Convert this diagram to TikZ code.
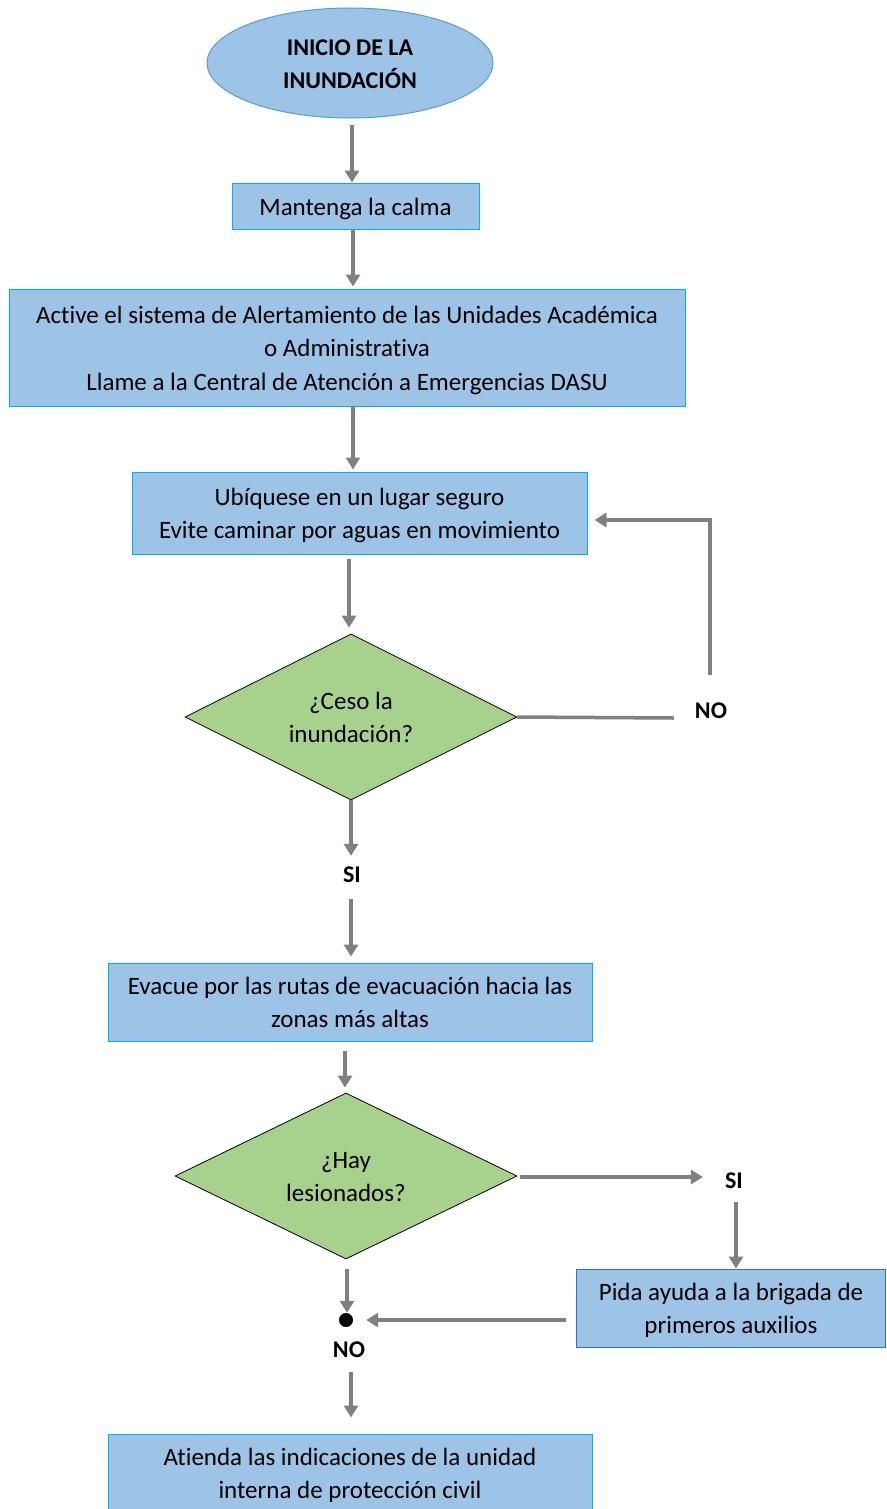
\documentclass[tikz,border=0pt]{standalone}
\usepackage{fontspec}
\setmainfont[Ligatures={NoCommon}]{Carlito}
\usetikzlibrary{shapes.geometric,arrows.meta}
\definecolor{boxfill}{HTML}{9DC3E6}
\definecolor{boxline}{HTML}{00B0F0}
\definecolor{boxdark}{HTML}{2E75B6}
\definecolor{ellline}{HTML}{5B9BD5}
\definecolor{decfill}{HTML}{A9D18E}
\definecolor{arrgray}{HTML}{808080}
\tikzset{
  stepbox/.style={draw=boxline, line width=1pt, fill=boxfill, rectangle, align=center, inner sep=0pt,
    text depth=6pt, font=\fontsize{25}{33.5}\selectfont},
  decbox/.style={draw=black, line width=0.8pt, fill=decfill, diamond, aspect=2, align=center, inner sep=0pt,
    text depth=6pt, font=\fontsize{25}{33.5}\selectfont},
  oneline/.style={text height=24pt},
  twolines/.style={text height=57.5pt},
  threelines/.style={text height=91pt},
  lbl/.style={font=\fontsize{24}{26}\selectfont\bfseries, inner sep=0pt},
  arr/.style={draw=arrgray, line width=3.5pt, -{Triangle[width=14pt,length=12pt]}},
  ln/.style={draw=arrgray, line width=3.5pt},
}
\begin{document}
\begin{tikzpicture}[x=1pt,y=-1pt]
\useasboundingbox (0,0) rectangle (886,1509);
\begin{scope}
\clip (0,0) rectangle (886,1509);
% nodes
\node[ellipse, draw=ellline, line width=1pt, fill=boxfill, minimum width=286pt, minimum height=110pt, inner sep=0pt,
  align=center, text height=57.5pt, text depth=6pt, font=\fontsize{24}{33.5}\selectfont\bfseries] (e) at (350,63) {INICIO DE LA\\INUNDACIÓN};
\node[stepbox, oneline, minimum width=247pt, minimum height=46pt] (b1) at (355.5,206) {Mantenga la calma};
\node[stepbox, threelines, minimum width=676pt, minimum height=117pt] (b2) at (347,347.5)
  {Active el sistema de Alertamiento de las Unidades Académica\\o Administrativa\\Llame a la Central de Atención a Emergencias DASU};
\node[stepbox, twolines, minimum width=455pt, minimum height=82pt] (b3) at (359.5,513)
  {Ubíquese en un lugar seguro\\Evite caminar por aguas en movimiento};
\node[decbox, twolines, minimum width=332pt, minimum height=166pt] (d1) at (351,717) {¿Ceso la\\inundación?};
\node[lbl] (si1) at (352,875) {SI};
\node[lbl] (no1) at (711,711) {NO};
\node[stepbox, twolines, minimum width=484pt, minimum height=78pt] (b4) at (350,1002)
  {Evacue por las rutas de evacuación hacia las\\zonas más altas};
\node[decbox, twolines, minimum width=342pt, minimum height=166pt] (d2) at (346,1176) {¿Hay\\lesionados?};
\node[lbl] (si2) at (734,1181) {SI};
\node[stepbox, twolines, draw=boxdark, minimum width=309pt, minimum height=78pt] (b5) at (731,1308)
  {Pida ayuda a la brigada de\\primeros auxilios};
\node[circle, fill=black, minimum size=14pt, inner sep=0pt] (dot) at (346,1320) {};
\node[lbl] (no2) at (349,1350) {NO};
\node[stepbox, twolines, minimum width=484pt, minimum height=78pt] (b6) at (350,1473)
  {Atienda las indicaciones de la unidad\\interna de protección civil};
\end{scope}
% connectors
\draw[arr] ([xshift=2pt,yshift=-7pt]e.south) -- ([xshift=-3.5pt]b1.north);
\draw[arr] ([xshift=-2.5pt]b1.south) -- ([xshift=6pt,yshift=2pt]b2.north);
\draw[arr] ([xshift=6pt]b2.south) -- ([xshift=-6.5pt,yshift=2pt]b3.north);
\draw[arr] ([xshift=-10.5pt,yshift=-4pt]b3.south) -- ([xshift=-2pt,yshift=6pt]d1.north);
\coordinate (s1a) at ([yshift=11pt]si1.north -| d1.south);
\draw[arr] (d1.south) -- (s1a);
\coordinate (s1b) at ([yshift=-16pt]si1.south -| d1.south);
\draw[arr] (s1b) -- ([xshift=1pt,yshift=6pt]b4.north);
\coordinate (n1a) at ([xshift=-21pt,yshift=-7pt]no1.west);
\draw[ln] (d1.east) -- (n1a);
\coordinate (n1b) at ([xshift=-1pt,yshift=28pt]no1.north);
\coordinate (n1c) at ([yshift=-7pt]n1b |- b3.east);
\draw[arr] (n1b) -- (n1c) -- ([xshift=7pt]b3.east |- n1c);
\draw[arr] ([xshift=-5pt,yshift=-9pt]b4.south) -- ([xshift=-1pt,yshift=5pt]d2.north);
\coordinate (s2a) at ([xshift=3pt,yshift=-1pt]d2.east);
\draw[arr] (s2a) -- ([xshift=-22pt]si2.west |- s2a);
\draw[arr] ([xshift=2pt,yshift=-13pt]si2.south) -- ([xshift=5pt]b5.north);
\draw[arr] ([xshift=-10pt,yshift=-12pt]b5.west) -- ([xshift=13pt]dot.east);
\draw[arr] ([xshift=1pt,yshift=-10pt]d2.south) -- ([xshift=1pt]dot.north);
\draw[arr] ([xshift=2pt,yshift=-14pt]no2.south) -- ([xshift=1pt,yshift=16pt]b6.north);
\end{tikzpicture}
\end{document}
